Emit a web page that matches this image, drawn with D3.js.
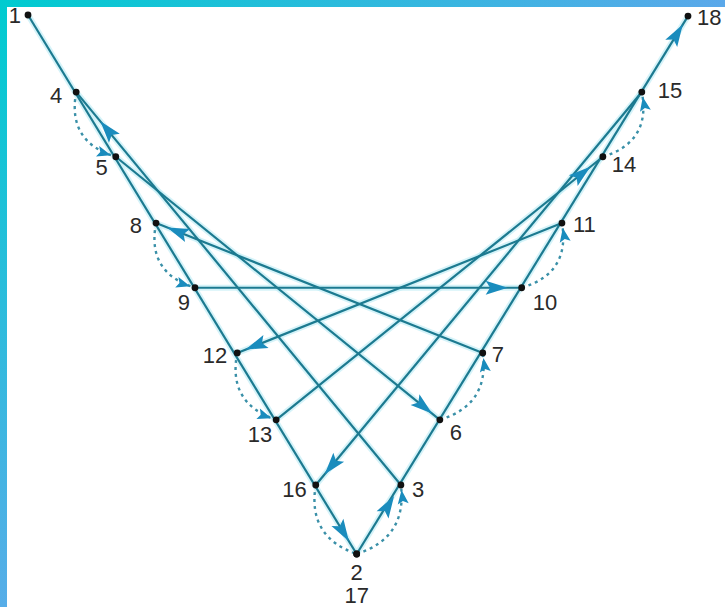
<!DOCTYPE html>
<html>
<head>
<meta charset="utf-8">
<script src="https://cdn.jsdelivr.net/npm/d3@7"></script>
<style>
  body { margin: 0; background: #fff; overflow: hidden; }
</style>
</head>
<body>
<script>
// stitch points in the order they are worked (figure units, 0..100 each way)
var pointLabels = ["1", "2", "3", "4", "5", "6", "7", "8", "9",
                   "10", "11", "12", "13", "14", "15", "16", "17", "18"];
var pointX = [0, 49.8, 56.5, 7.3, 13.3, 62.4, 68.9, 19.4, 25.3,
              74.8, 80.9, 31.7, 37.6, 87.1, 93.0, 43.6, 49.8, 100];
var pointY = [0, 100, 87.2, 14.3, 26.3, 75.1, 62.7, 38.6, 50.6,
              50.6, 38.6, 62.7, 75.1, 26.3, 14.3, 87.2, 100, 0.2];

var W = 725, H = 607;
var LINE = "#1c7a90", HALO = "#c4eff7", ARROW = "#1a8cbd", DOT = "#111";

// how far before the end of each solid run the arrow tip sits (px)
var ARROW_BACK = [15, 38, 10, 12, 14, 9, 16, 14, 10];
// label placement: [dx, dy, anchor]
var LABEL_POS = [
  [-7, 8, "end"], [0, 26, "middle"], [11, 12, "start"], [-14, 11, "end"],
  [-8, 18, "end"], [10, 20, "start"], [9, 9, "start"], [-14, 10, "end"],
  [-5, 22, "end"], [11, 22, "start"], [11, 9, "start"], [-10, 10, "end"],
  [-4, 22, "end"], [9, 15, "start"], [16, 6, "start"], [-9, 12, "end"],
  [0, 49, "middle"], [9, 9, "start"]
];

var x = d3.scaleLinear().domain([0, 100]).range([28, 688]);
var y = d3.scaleLinear().domain([0, 100]).range([15, 554]);

var pts = pointLabels.map(function(l, i) {
  return { label: l, px: x(pointX[i]), py: y(pointY[i]) };
});

var svg = d3.select("body").append("svg")
    .attr("width", W)
    .attr("height", H);

var defs = svg.append("defs");
var gTop = defs.append("linearGradient").attr("id", "gTop")
    .attr("x1", "0").attr("y1", "0").attr("x2", "1").attr("y2", "0");
gTop.append("stop").attr("offset", "0").attr("stop-color", "#00cbd0");
gTop.append("stop").attr("offset", "1").attr("stop-color", "#5ba8ea");
var gLeft = defs.append("linearGradient").attr("id", "gLeft")
    .attr("x1", "0").attr("y1", "0").attr("x2", "0").attr("y2", "1");
gLeft.append("stop").attr("offset", "0").attr("stop-color", "#00cbd0");
gLeft.append("stop").attr("offset", "1").attr("stop-color", "#57ade8");

// solid runs are i -> i+1 for even i, dotted returns for odd i
var solid = [], dotted = [];
for (var i = 0; i < pts.length - 1; i++) {
  (i % 2 === 0 ? solid : dotted).push([pts[i], pts[i + 1]]);
}

function unit(a, b) {
  var dx = b.px - a.px, dy = b.py - a.py, len = Math.sqrt(dx * dx + dy * dy);
  return [dx / len, dy / len];
}

function arrowHead(tx, ty, u, len, hw) {
  var bx = tx - u[0] * len, by = ty - u[1] * len;
  var nx = -u[1], ny = u[0];
  return "M" + tx + "," + ty +
    "L" + (bx + nx * hw) + "," + (by + ny * hw) +
    "L" + (bx + u[0] * len * 0.2) + "," + (by + u[1] * len * 0.2) +
    "L" + (bx - nx * hw) + "," + (by - ny * hw) + "Z";
}

var cx0 = x(49.8);
function ctrl(a, b) {
  var u = unit(a, b), n = [-u[1], u[0]];
  var mx = (a.px + b.px) / 2, my = (a.py + b.py) / 2;
  var side = (mx < cx0) ? -1 : 1;
  if (n[0] * side < 0) n = [-n[0], -n[1]];
  var off = 34;
  return [mx + n[0] * off, my + n[1] * off];
}

var g = svg.append("g");

// faint halo under the runs
g.selectAll(".halo").data(solid).enter().append("line")
    .attr("x1", function(d) { return d[0].px; })
    .attr("y1", function(d) { return d[0].py; })
    .attr("x2", function(d) { return d[1].px; })
    .attr("y2", function(d) { return d[1].py; })
    .attr("stroke", HALO).attr("stroke-width", 6).attr("opacity", 0.7);

g.selectAll(".run").data(solid).enter().append("line")
    .attr("x1", function(d) { return d[0].px; })
    .attr("y1", function(d) { return d[0].py; })
    .attr("x2", function(d) { return d[1].px; })
    .attr("y2", function(d) { return d[1].py; })
    .attr("stroke", LINE).attr("stroke-width", 2.2);

// dotted return stitches
g.selectAll(".ret").data(dotted).enter().append("path")
    .attr("d", function(d) {
      var c = ctrl(d[0], d[1]);
      return "M" + d[0].px + "," + d[0].py + "Q" + c[0] + "," + c[1] + " " + d[1].px + "," + d[1].py;
    })
    .attr("fill", "none").attr("stroke", "#3a90a8")
    .attr("stroke-width", 2.4).attr("stroke-dasharray", "3,4");

// arrow heads on the runs
var arrows = solid.map(function(d, k) {
  var u = unit(d[0], d[1]);
  return { x: d[1].px - u[0] * ARROW_BACK[k], y: d[1].py - u[1] * ARROW_BACK[k], u: u, len: 22, hw: 7 };
});
// last run also carries an arrow just below point 3
(function() {
  var d = solid[solid.length - 1], u = unit(d[0], d[1]);
  arrows.push({ x: pts[2].px - u[0] * 13, y: pts[2].py - u[1] * 13, u: u, len: 22, hw: 7 });
})();
// arrow heads at the end of the dotted returns
dotted.forEach(function(d, k) {
  if (k === dotted.length - 1) return;
  var c = ctrl(d[0], d[1]);
  var u = unit({ px: c[0], py: c[1] }, d[1]);
  arrows.push({ x: d[1].px - u[0] * 5, y: d[1].py - u[1] * 5, u: u, len: 14, hw: 5.5 });
});

g.selectAll(".arrow").data(arrows).enter().append("path")
    .attr("d", function(a) { return arrowHead(a.x, a.y, a.u, a.len, a.hw); })
    .attr("fill", ARROW);

g.selectAll(".dot").data(pts).enter().append("circle")
    .attr("cx", function(d) { return d.px; })
    .attr("cy", function(d) { return d.py; })
    .attr("r", 3.4).attr("fill", DOT);

g.selectAll(".lbl").data(pts).enter().append("text")
    .attr("x", function(d, i) { return d.px + LABEL_POS[i][0]; })
    .attr("y", function(d, i) { return d.py + LABEL_POS[i][1]; })
    .attr("text-anchor", function(d, i) { return LABEL_POS[i][2]; })
    .attr("font-family", "Liberation Sans, Arial, sans-serif")
    .attr("font-size", 22)
    .attr("fill", "#2a2a2a")
    .text(function(d) { return d.label; });

// frame bars
svg.append("rect").attr("x", 0).attr("y", 0).attr("width", W).attr("height", 7).attr("fill", "url(#gTop)");
svg.append("rect").attr("x", 0).attr("y", 0).attr("width", 7).attr("height", H).attr("fill", "url(#gLeft)");
</script>
</body>
</html>
